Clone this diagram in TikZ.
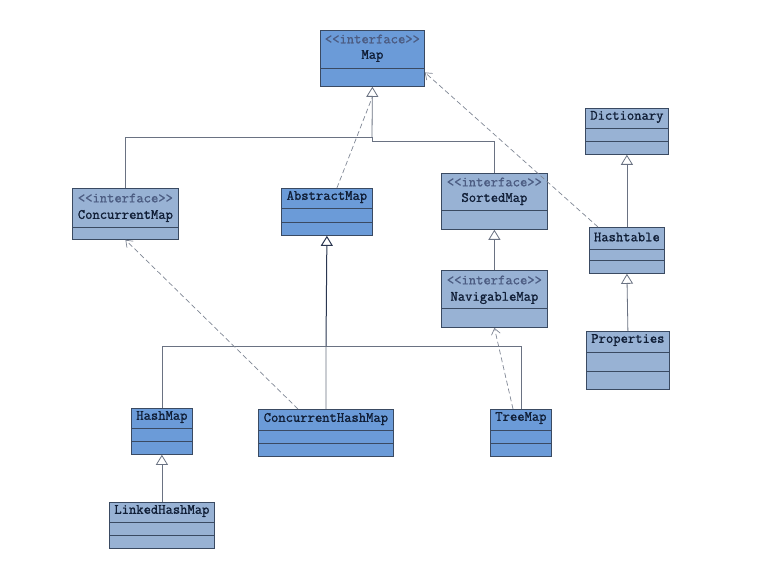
\documentclass[tikz,border=0pt]{standalone}
\usepackage{fontspec}
\newfontfamily\umlfont[FakeBold=1.2]{Latin Modern Mono}
\usetikzlibrary{arrows.meta}
\definecolor{bblue}{HTML}{6B9BD8}
\definecolor{gblue}{HTML}{98B2D4}
\definecolor{bord}{HTML}{3A4A62}
\definecolor{txtc}{HTML}{101E36}
\definecolor{intc}{HTML}{4C5C82}
\definecolor{linec}{HTML}{6A7282}
\definecolor{darkl}{HTML}{2A3650}
\begin{document}
\begin{tikzpicture}[x=1pt,y=-1pt,
  clsA/.style={draw=bord, fill=bblue, line width=0.8pt, inner sep=0pt, anchor=north west},
  clsB/.style={draw=bord, fill=gblue, line width=0.8pt, inner sep=0pt, anchor=north west},
  sepl/.style={draw=bord, line width=0.8pt},
  nm/.style={font=\umlfont\fontsize{14.2}{16}\selectfont, text=txtc, inner sep=0pt},
  intf/.style={font=\umlfont\fontsize{14.2}{16}\selectfont, text=intc, inner sep=0pt},
  conn/.style={draw=linec, line width=0.8pt},
  gen/.style={conn, -{Triangle[open, length=10pt, width=12pt, fill=white]}},
  dsh/.style={draw=linec!85, line width=0.7pt, dash pattern=on 5pt off 3pt},
  real/.style={dsh, -{Straight Barb[length=6pt, width=9pt]}}
]
\useasboundingbox[fill=white] (0,0) rectangle (765,577);

% ---- Map (interface)
\node[clsA, minimum width=104pt, minimum height=56pt] (map) at (320,30) {};
\draw[sepl] ([yshift=-38pt]map.north west) -- ([yshift=-38pt]map.north east);
\node[intf] (map-i) at ([yshift=-9pt]map.north) {<<interface>>};
\node[nm] (map-n) at ([yshift=-26pt]map.north) {Map};

% ---- ConcurrentMap (interface)
\node[clsB, minimum width=106pt, minimum height=51pt] (cmap) at (72,188) {};
\draw[sepl] ([yshift=-39pt]cmap.north west) -- ([yshift=-39pt]cmap.north east);
\node[intf] (cmap-i) at ([yshift=-10pt]cmap.north) {<<interface>>};
\node[nm] (cmap-n) at ([yshift=-28pt]cmap.north) {ConcurrentMap};

% ---- SortedMap (interface)
\node[clsB, minimum width=106pt, minimum height=56pt] (smap) at (441,173) {};
\draw[sepl] ([yshift=-37pt]smap.north west) -- ([yshift=-37pt]smap.north east);
\node[intf] (smap-i) at ([yshift=-9pt]smap.north) {<<interface>>};
\node[nm] (smap-n) at ([yshift=-26pt]smap.north) {SortedMap};

% ---- NavigableMap (interface)
\node[clsB, minimum width=106pt, minimum height=57pt] (nmap) at (441,270) {};
\draw[sepl] ([yshift=-38pt]nmap.north west) -- ([yshift=-38pt]nmap.north east);
\node[intf] (nmap-i) at ([yshift=-10pt]nmap.north) {<<interface>>};
\node[nm] (nmap-n) at ([yshift=-28pt]nmap.north) {NavigableMap};

% ---- AbstractMap
\node[clsA, minimum width=91pt, minimum height=47pt] (amap) at (281,188) {};
\draw[sepl] ([yshift=-20pt]amap.north west) -- ([yshift=-20pt]amap.north east);
\draw[sepl] ([yshift=-34pt]amap.north west) -- ([yshift=-34pt]amap.north east);
\node[nm] (amap-n) at ([yshift=-9pt]amap.north) {AbstractMap};

% ---- Dictionary
\node[clsB, minimum width=83pt, minimum height=46pt] (dict) at (585,108) {};
\draw[sepl] ([yshift=-20pt]dict.north west) -- ([yshift=-20pt]dict.north east);
\draw[sepl] ([yshift=-33pt]dict.north west) -- ([yshift=-33pt]dict.north east);
\node[nm] (dict-n) at ([yshift=-9pt]dict.north) {Dictionary};

% ---- Hashtable
\node[clsB, minimum width=75pt, minimum height=46pt] (htab) at (589,227) {};
\draw[sepl] ([yshift=-22pt]htab.north west) -- ([yshift=-22pt]htab.north east);
\draw[sepl] ([yshift=-33pt]htab.north west) -- ([yshift=-33pt]htab.north east);
\node[nm] (htab-n) at ([yshift=-10pt]htab.north) {Hashtable};

% ---- Properties
\node[clsB, minimum width=83pt, minimum height=58pt] (prop) at (586,331) {};
\draw[sepl] ([yshift=-21pt]prop.north west) -- ([yshift=-21pt]prop.north east);
\draw[sepl] ([yshift=-40pt]prop.north west) -- ([yshift=-40pt]prop.north east);
\node[nm] (prop-n) at ([yshift=-9pt]prop.north) {Properties};

% ---- HashMap
\node[clsA, minimum width=61pt, minimum height=46pt] (hmap) at (131,408) {};
\draw[sepl] ([yshift=-20pt]hmap.north west) -- ([yshift=-20pt]hmap.north east);
\draw[sepl] ([yshift=-33pt]hmap.north west) -- ([yshift=-33pt]hmap.north east);
\node[nm] (hmap-n) at ([yshift=-9pt]hmap.north) {HashMap};

% ---- LinkedHashMap
\node[clsB, minimum width=105pt, minimum height=46pt] (lhm) at (109,502) {};
\draw[sepl] ([yshift=-20pt]lhm.north west) -- ([yshift=-20pt]lhm.north east);
\draw[sepl] ([yshift=-33pt]lhm.north west) -- ([yshift=-33pt]lhm.north east);
\node[nm] (lhm-n) at ([yshift=-9pt]lhm.north) {LinkedHashMap};

% ---- ConcurrentHashMap
\node[clsA, minimum width=135pt, minimum height=47pt] (chm) at (258,409) {};
\draw[sepl] ([yshift=-21pt]chm.north west) -- ([yshift=-21pt]chm.north east);
\draw[sepl] ([yshift=-34pt]chm.north west) -- ([yshift=-34pt]chm.north east);
\node[nm] (chm-n) at ([yshift=-10pt]chm.north) {ConcurrentHashMap};

% ---- TreeMap
\node[clsA, minimum width=61pt, minimum height=47pt] (tmap) at (490,409) {};
\draw[sepl] ([yshift=-21pt]tmap.north west) -- ([yshift=-21pt]tmap.north east);
\draw[sepl] ([yshift=-34pt]tmap.north west) -- ([yshift=-34pt]tmap.north east);
\node[nm] (tmap-n) at ([yshift=-9pt]tmap.north) {TreeMap};

% ---- junctions
\coordinate (j1) at (372,137);
\coordinate (j1b) at (372,141);
\coordinate (j2) at (326,346);

% ---- connectors
\draw[conn] (cmap.north) |- (j1);
\draw[conn] (smap.north) |- (j1b) -- (j1);
\draw[gen] (j1) -- (map.south);
\draw[dsh] ([xshift=10pt]amap.north) -- ([yshift=-10pt]map.south);
\draw[real] ([xshift=9pt]htab.north west) -- ([yshift=-14pt]map.east);

\draw[gen] (htab.north) -- (dict.south);
\draw[gen] (prop.north) -- (htab.south);
\draw[gen] (nmap.north) -- (smap.south);

\draw[conn] (hmap.north) |- (j2);
\draw[conn] (tmap.north) |- (j2);
\draw[conn] (chm.north) -- (j2);
\draw[gen, draw=darkl, line width=1pt] (j2) -- (amap.south);
\draw[gen] (lhm.north) -- (hmap.south);

\draw[real] ([xshift=40pt]chm.north west) -- (cmap.south);
\draw[real] ([xshift=23pt]tmap.north west) -- (nmap.south);
\end{tikzpicture}
\end{document}
